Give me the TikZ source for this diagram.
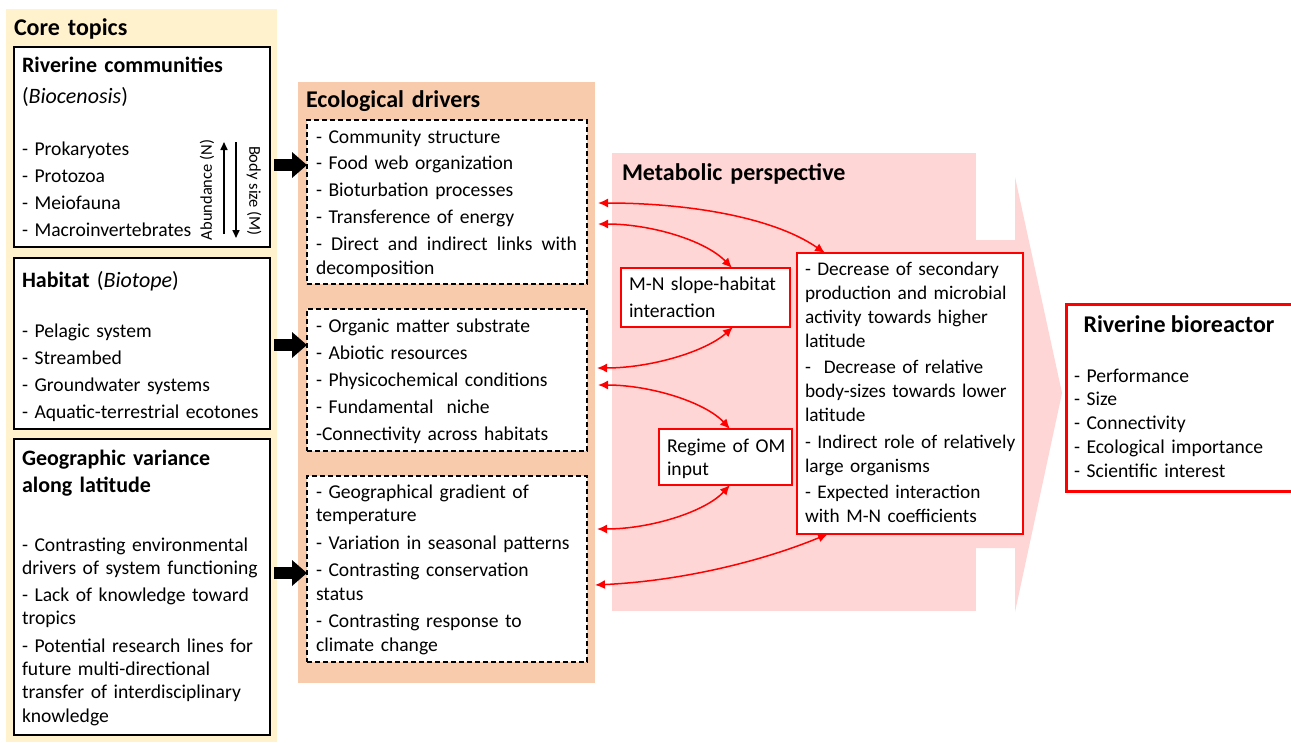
\documentclass[tikz,border=0pt]{standalone}
\usepackage{fontspec}
\setmainfont{Carlito}
\usetikzlibrary{arrows.meta}
\definecolor{tanbg}{HTML}{FFF2CC}
\definecolor{peachbg}{HTML}{F8CBAD}
\definecolor{pinkbg}{HTML}{FFD6D6}
\definecolor{arrred}{HTML}{FF0000}
\newcommand{\setfs}[2]{\fontsize{#1}{#2}\selectfont}
\begin{document}
\begin{tikzpicture}[x=1pt,y=-1pt,
  bg/.style={anchor=north west, inner sep=0pt, outer sep=0pt, draw=none},
  box/.style={anchor=north west, inner sep=0pt, outer sep=0pt, draw=black, line width=1.3pt, fill=white},
  dbox/.style={box, dash pattern=on 5pt off 3pt},
  rbox/.style={box, draw=arrred, line width=1.4pt},
  bbox/.style={box, draw=arrred, line width=3pt},
  txt/.style={anchor=base west, inner sep=0pt, outer sep=0pt, align=left, text width=#1},
  txt/.default=285pt,
  fat/.style={black, line width=12pt, -{Triangle[length=15pt,width=25pt]}},
  thinarr/.style={black, line width=1.6pt, -{Triangle[length=8pt,width=7pt]}},
  redarr/.style={arrred, line width=1.5pt, {Latex[length=10pt,width=9pt]}-{Latex[length=10pt,width=9pt]}}
]
\useasboundingbox (0,0) rectangle (1291,742);
\fill[white] (0,0) rectangle (1291,742);

% backgrounds
\node[bg, fill=tanbg, minimum width=271pt, minimum height=733pt] (core) at (6,9) {};
\node[bg, fill=peachbg, minimum width=297pt, minimum height=601pt] (eco) at (298,82) {};
\fill[pinkbg] (612,153) rectangle (976,611);
\fill[pinkbg] (976,240) -- (1015,240) -- (1015,177) -- (1062,393) -- (1015,612) -- (1015,548) -- (976,548) -- cycle;

% frames
\node[box, minimum width=256pt, minimum height=200pt] (b1) at (14,47) {};
\node[box, minimum width=256pt, minimum height=171pt] (b2) at (14,258) {};
\node[box, minimum width=256pt, minimum height=296pt] (b3) at (14,439) {};
\node[dbox, minimum width=280pt, minimum height=164pt] (d1) at (307,120) {};
\node[dbox, minimum width=280pt, minimum height=142pt] (d2) at (307,309) {};
\node[dbox, minimum width=280pt, minimum height=186pt] (d3) at (307,476) {};
\node[rbox, minimum width=169pt, minimum height=59pt] (mn) at (621,268) {};
\node[rbox, minimum width=133pt, minimum height=56pt] (om) at (659,429) {};
\node[rbox, minimum width=226pt, minimum height=281pt] (big) at (797,253) {};
\node[bbox, minimum width=245pt, minimum height=187pt] (bio) at (1066,304) {};

% black block arrows
\coordinate (y1) at (0,165);
\coordinate (y2) at (0,345);
\coordinate (y3) at (0,573);
\draw[fat] ([xshift=4pt]b1.east |- y1) -- (d1.west |- y1);
\draw[fat] ([xshift=4pt]b2.east |- y2) -- (d2.west |- y2);
\draw[fat] ([xshift=4pt]b3.east |- y3) -- (d3.west |- y3);

% abundance / body size arrows
\coordinate (ab0) at (224,234);
\coordinate (ab1) at (224,142);
\coordinate (bs0) at (236,142);
\coordinate (bs1) at (236,238);
\draw[thinarr] (ab0) -- (ab1);
\draw[thinarr] (bs0) -- (bs1);
\node[rotate=90, inner sep=0pt, font=\setfs{16.5}{20}] (abn) at (207,190) {Abundance (N)};
\node[rotate=-90, inner sep=0pt, font=\setfs{16.5}{20}] (bsz) at (254,191) {Body size (M)};

% red curved arrows
\coordinate (r1) at (598,203);
\coordinate (r2) at (598,224);
\coordinate (r3) at (597,368);
\coordinate (r4) at (598,385);
\coordinate (r5) at (597,529);
\coordinate (r6) at (595,585);
\draw[redarr] (r1) .. controls (680,203) and (770,215) .. ([xshift=28pt]big.north west);
\draw[redarr] (r2) .. controls (650,224) and (705,240) .. ([xshift=111pt]mn.north west);
\draw[redarr] (r3) .. controls (650,368) and (705,352) .. ([xshift=112pt]mn.south west);
\draw[redarr] (r4) .. controls (650,385) and (705,402) .. ([xshift=71pt]om.north west);
\draw[redarr] (r5) .. controls (650,529) and (705,512) .. ([xshift=71pt]om.south west);
\draw[redarr] (r6) .. controls (680,581) and (760,562) .. ([xshift=31pt]big.south west);

% texts
\node[txt, font=\setfs{24}{29}\bfseries] (tcore) at (14,35) {Core topics};
\node[txt, font=\setfs{22}{31}] (t1a) at (22,72) {\textbf{Riverine communities}\\(\textit{Biocenosis})};
\node[txt, font=\setfs{19.6}{27.3}] (t1b) at (22,155) {- Prokaryotes\\- Protozoa\\- Meiofauna\\- Macroinvertebrates};

\node[txt, font=\setfs{22}{27}] (t2a) at (22,287) {\textbf{Habitat} (\textit{Biotope})};
\node[txt, font=\setfs{19.6}{27}] (t2b) at (22,337) {- Pelagic system\\- Streambed\\- Groundwater systems\\- Aquatic-terrestrial ecotones};

\node[txt, font=\setfs{22}{27}\bfseries] (t3a) at (22,465) {Geographic variance\\along latitude};
\node[txt, font=\setfs{19.6}{23.3}] (t3b) at (22,551) {- Contrasting environmental\\drivers of system functioning\\[4pt]- Lack of knowledge toward\\tropics\\[4pt]- Potential research lines for\\future multi-directional\\transfer of interdisciplinary\\knowledge};

\node[txt, font=\setfs{24}{29}\bfseries] (teco) at (306,107) {Ecological drivers};
\node[txt, font=\setfs{19.6}{26.8}] (td1) at (316,143) {- Community structure\\- Food web organization\\- Bioturbation processes\\- Transference of energy\\\makebox[261pt][l]{-\hfill Direct\hfill and\hfill indirect\hfill links\hfill with}\\[-3pt]decomposition};
\node[txt, font=\setfs{19.6}{27}] (td2) at (316,332) {- Organic matter substrate\\- Abiotic resources\\- Physicochemical conditions\\- Fundamental\ \ niche\\-Connectivity across habitats};
\node[txt, font=\setfs{19.6}{23.5}] (td3) at (316,498) {- Geographical gradient of\\temperature\\[4pt]- Variation in seasonal patterns\\[4pt]- Contrasting conservation\\status\\[4pt]- Contrasting response to\\climate change};

\node[txt, font=\setfs{24}{29}\bfseries] (tmet) at (622,180) {Metabolic perspective};
\node[txt, font=\setfs{19.6}{27}] (tmn) at (629,290) {M-N slope-habitat\\interaction};
\node[txt, font=\setfs{19.6}{23}] (tom) at (667,452) {Regime of OM\\input};
\node[txt, font=\setfs{19.3}{24}] (tbig) at (805,275) {- Decrease of secondary\\production and microbial\\activity towards higher\\latitude\\[2.5pt]-\ \ Decrease of relative\\body-sizes towards lower\\latitude\\[2.5pt]- Indirect role of relatively\\large organisms\\[2.5pt]- Expected interaction\\with M-N coefficients};

\node[anchor=base, inner sep=0pt, font=\setfs{24}{29}\bfseries] (tbio) at (1179,332) {Riverine bioreactor};
\node[txt, font=\setfs{19.6}{23.75}] (tbiol) at (1074,382) {- Performance\\- Size\\- Connectivity\\- Ecological importance\\- Scientific interest};
\end{tikzpicture}
\end{document}
